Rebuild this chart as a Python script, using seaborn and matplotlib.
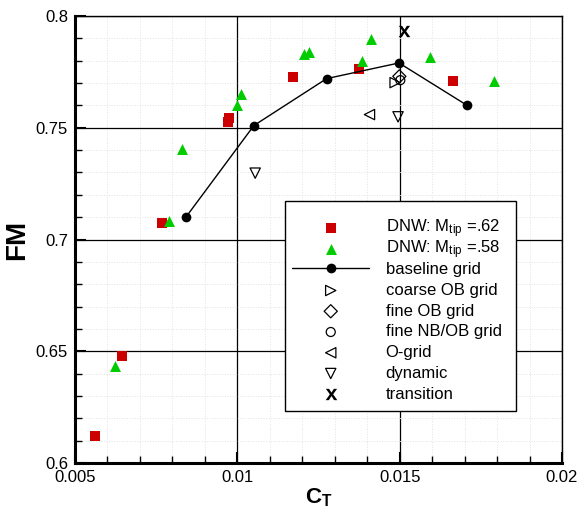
import matplotlib
matplotlib.use("Agg")
import matplotlib.pyplot as plt
import seaborn as sns
from matplotlib.ticker import MultipleLocator, FuncFormatter
from matplotlib.offsetbox import TextArea
from matplotlib.transforms import Bbox

# =========================
# DATA
# =========================

ct_dnw62 = [0.00562, 0.00646, 0.00768, 0.00970, 0.00973, 0.01171, 0.01375, 0.01664]
fm_dnw62 = [0.6120, 0.6480, 0.7076, 0.7525, 0.7543, 0.7725, 0.7765, 0.7709]

ct_dnw58 = [0.00624, 0.00791, 0.00830, 0.01000, 0.01012, 0.01204, 0.01220,
            0.01383, 0.01411, 0.01594, 0.01790]
fm_dnw58 = [0.6434, 0.7085, 0.7406, 0.7603, 0.7650, 0.7831, 0.7838,
            0.7799, 0.7895, 0.7816, 0.7710]

ct_base = [0.00842, 0.01051, 0.01275, 0.01498, 0.01708]
fm_base = [0.7101, 0.7510, 0.7720, 0.7790, 0.7600]

ct_coarse_ob = [0.01486]
fm_coarse_ob = [0.7702]

ct_fine_ob = [0.01499]
fm_fine_ob = [0.7730]

ct_fine_nbob = [0.01502]
fm_fine_nbob = [0.7713]

ct_ogrid = [0.01407]
fm_ogrid = [0.7559]

ct_dynamic = [0.01055, 0.01495]
fm_dynamic = [0.7297, 0.7549]

ct_transition = [0.01514]
fm_transition = [0.7935]

label_62 = r"DNW: M$_{\mathrm{tip}}$ =.62"
label_58 = r"DNW: M$_{\mathrm{tip}}$ =.58"

# =========================
# STYLE
# =========================

sns.set_style("white")
plt.rcParams["font.family"] = ["Liberation Sans", "DejaVu Sans"]
plt.rcParams["mathtext.fontset"] = "custom"
plt.rcParams["mathtext.rm"] = "Liberation Sans"
plt.rcParams["mathtext.it"] = "Liberation Sans:italic"
plt.rcParams["mathtext.bf"] = "Liberation Sans:bold"
plt.rcParams["text.color"] = "black"
plt.rcParams["axes.labelcolor"] = "black"
plt.rcParams["xtick.color"] = "black"
plt.rcParams["ytick.color"] = "black"

fig = plt.figure(figsize=(5.87, 5.12), dpi=100)
ax = fig.add_axes([0.1278, 0.0957, 0.8296, 0.873])

# =========================
# SERIES
# =========================

sns.scatterplot(x=ct_dnw62, y=fm_dnw62, ax=ax, marker="s", s=55,
                color="#cc0000", linewidth=0, label=label_62, zorder=4)
sns.scatterplot(x=ct_dnw58, y=fm_dnw58, ax=ax, marker="^", s=62,
                color="#00cc00", linewidth=0, label=label_58, zorder=4)
sns.lineplot(x=ct_base, y=fm_base, ax=ax, sort=False, color="black",
             linewidth=1, marker="o", markersize=7, markeredgewidth=0,
             label="baseline grid", zorder=5)

open_kw = dict(facecolor="none", edgecolor="black", linewidth=0.9, s=55, zorder=6)
sns.scatterplot(x=ct_coarse_ob, y=fm_coarse_ob, ax=ax, marker=">", label="coarse OB grid", **open_kw)
sns.scatterplot(x=ct_fine_ob, y=fm_fine_ob, ax=ax, marker="D", label="fine OB grid",
                facecolor="none", edgecolor="black", linewidth=0.9, s=45, zorder=6)
sns.scatterplot(x=ct_fine_nbob, y=fm_fine_nbob, ax=ax, marker="o", label="fine NB/OB grid",
                facecolor="none", edgecolor="black", linewidth=0.9, s=42, zorder=6)
sns.scatterplot(x=ct_ogrid, y=fm_ogrid, ax=ax, marker="<", label="O-grid", **open_kw)
sns.scatterplot(x=ct_dynamic, y=fm_dynamic, ax=ax, marker="v", label="dynamic", **open_kw)
sns.scatterplot(x=ct_transition, y=fm_transition, ax=ax, marker=r"$\mathbf{x}$", s=70,
                color="black", linewidth=0, label="transition", zorder=6)

# =========================
# AXES
# =========================

ax.set_xlim(0.005, 0.02)
ax.set_ylim(0.6, 0.8)

ax.xaxis.set_major_locator(MultipleLocator(0.005))
ax.xaxis.set_minor_locator(MultipleLocator(0.001))
ax.yaxis.set_major_locator(MultipleLocator(0.05))
ax.yaxis.set_minor_locator(MultipleLocator(0.01))
fmt = FuncFormatter(lambda v, p: "%g" % round(v, 4))
ax.xaxis.set_major_formatter(fmt)
ax.yaxis.set_major_formatter(fmt)

ax.grid(which="major", color="black", linewidth=0.9, zorder=1)
ax.grid(which="minor", color="#e2e2e2", linestyle=":", linewidth=0.7, zorder=0)
ax.set_axisbelow(True)

ax.tick_params(which="both", direction="in", top=False, right=False,
               bottom=True, left=True, color="black")
ax.tick_params(which="major", length=8, width=1.5, labelsize=12, pad=5)
ax.tick_params(which="minor", length=5, width=1)

for side in ["left", "bottom"]:
    ax.spines[side].set_linewidth(2.2)
for side in ["top", "right"]:
    ax.spines[side].set_linewidth(1)
for sp in ax.spines.values():
    sp.set_color("black")

ax.set_xlabel(r"C$_{\mathbf{T}}$", fontsize=16, fontweight="bold", labelpad=1)
ax.set_ylabel("FM", fontsize=20, fontweight="bold", labelpad=4)

# =========================
# LEGEND
# =========================

leg = ax.legend(loc="upper left", bbox_to_anchor=(0.431, 0.587),
                borderaxespad=0, frameon=True, fancybox=False, framealpha=1,
                edgecolor="black", fontsize=12, handlelength=4.6,
                handletextpad=0.99, labelspacing=0.165, borderpad=0.45)
leg.get_frame().set_linewidth(1)
leg.set_zorder(10)

# give every legend row the same height (the M_tip subscripts are deeper);
# the first row gets extra room on top, and the text column a bit on the right
labels = [t.get_text() for t in leg.get_texts()]
ROW_H, ROW_D, FIRST_EXTRA, RIGHT_PAD = 18.0, 4.5, 11.0, 7.0


def fixed_bbox(orig, extra):
    def get_bbox(renderer):
        bb = orig(renderer)
        return Bbox.from_bounds(bb.x0, -ROW_D, bb.width + RIGHT_PAD, ROW_H + extra)
    return get_bbox


def walk(box):
    for child in box.get_children():
        if isinstance(child, TextArea):
            if child.get_text() in labels:
                extra = FIRST_EXTRA if child.get_text() == label_62 else 0.0
                child.get_bbox = fixed_bbox(child.get_bbox, extra)
        elif hasattr(child, "get_children"):
            walk(child)


walk(leg)

plt.savefig("out.png", dpi=100)
plt.close()
